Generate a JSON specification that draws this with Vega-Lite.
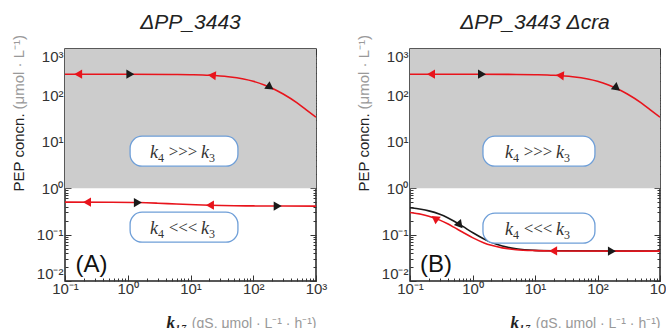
{
  "$schema": "https://vega.github.io/schema/vega-lite/v6.json",
  "padding": {"left": 10, "top": 10, "right": 0, "bottom": 0},
  "background": "white",
  "config": {
    "view": {"stroke": "#222222", "strokeWidth": 1.5},
    "axis": {"grid": false, "domain": false, "labelFont": "Liberation Sans", "labelFontSize": 15, "labelColor": "#333333", "tickColor": "#333333", "labelOverlap": false, "labelFlush": false, "labelBound": false},
    "title": {"font": "Liberation Sans", "fontSize": 21, "fontStyle": "italic", "fontWeight": "normal", "color": "#222222", "offset": 2, "baseline": "alphabetic"}
  },
  "datasets": {
    "regions": [
      {"panel": "A", "x0": 0.1, "x1": 1000, "y0": 1, "y1": 1000},
      {"panel": "B", "x0": 0.1, "x1": 1000, "y0": 1, "y1": 1000}
    ],
    "curves": [
      {"panel": "B", "path": "low", "dir": "fwd", "x": 0.1, "y": 0.378},
      {"panel": "B", "path": "low", "dir": "fwd", "x": 0.15, "y": 0.352},
      {"panel": "B", "path": "low", "dir": "fwd", "x": 0.2, "y": 0.325},
      {"panel": "B", "path": "low", "dir": "fwd", "x": 0.3, "y": 0.274},
      {"panel": "B", "path": "low", "dir": "fwd", "x": 0.4, "y": 0.231},
      {"panel": "B", "path": "low", "dir": "fwd", "x": 0.5, "y": 0.197},
      {"panel": "B", "path": "low", "dir": "fwd", "x": 0.7, "y": 0.15},
      {"panel": "B", "path": "low", "dir": "fwd", "x": 1, "y": 0.111},
      {"panel": "B", "path": "low", "dir": "fwd", "x": 1.5, "y": 0.0817},
      {"panel": "B", "path": "low", "dir": "fwd", "x": 2, "y": 0.0682},
      {"panel": "B", "path": "low", "dir": "fwd", "x": 3, "y": 0.0567},
      {"panel": "B", "path": "low", "dir": "fwd", "x": 5, "y": 0.0495},
      {"panel": "B", "path": "low", "dir": "fwd", "x": 10, "y": 0.0458},
      {"panel": "B", "path": "low", "dir": "fwd", "x": 20, "y": 0.0449},
      {"panel": "B", "path": "low", "dir": "fwd", "x": 1000, "y": 0.044},
      {"panel": "A", "path": "up", "dir": "bwd", "x": 0.1, "y": 286},
      {"panel": "A", "path": "up", "dir": "bwd", "x": 1, "y": 286},
      {"panel": "A", "path": "up", "dir": "bwd", "x": 5, "y": 283},
      {"panel": "A", "path": "up", "dir": "bwd", "x": 10, "y": 279},
      {"panel": "A", "path": "up", "dir": "bwd", "x": 20, "y": 271},
      {"panel": "A", "path": "up", "dir": "bwd", "x": 40, "y": 252},
      {"panel": "A", "path": "up", "dir": "bwd", "x": 70, "y": 225},
      {"panel": "A", "path": "up", "dir": "bwd", "x": 100, "y": 201},
      {"panel": "A", "path": "up", "dir": "bwd", "x": 150, "y": 168},
      {"panel": "A", "path": "up", "dir": "bwd", "x": 200, "y": 143},
      {"panel": "A", "path": "up", "dir": "bwd", "x": 300, "y": 107},
      {"panel": "A", "path": "up", "dir": "bwd", "x": 500, "y": 69},
      {"panel": "A", "path": "up", "dir": "bwd", "x": 700, "y": 49},
      {"panel": "A", "path": "up", "dir": "bwd", "x": 1000, "y": 34},
      {"panel": "A", "path": "low", "dir": "bwd", "x": 0.1, "y": 0.5},
      {"panel": "A", "path": "low", "dir": "bwd", "x": 0.5, "y": 0.497},
      {"panel": "A", "path": "low", "dir": "bwd", "x": 1.5, "y": 0.49},
      {"panel": "A", "path": "low", "dir": "bwd", "x": 3, "y": 0.475},
      {"panel": "A", "path": "low", "dir": "bwd", "x": 6, "y": 0.455},
      {"panel": "A", "path": "low", "dir": "bwd", "x": 12, "y": 0.44},
      {"panel": "A", "path": "low", "dir": "bwd", "x": 20, "y": 0.43},
      {"panel": "A", "path": "low", "dir": "bwd", "x": 50, "y": 0.42},
      {"panel": "A", "path": "low", "dir": "bwd", "x": 100, "y": 0.415},
      {"panel": "A", "path": "low", "dir": "bwd", "x": 300, "y": 0.412},
      {"panel": "A", "path": "low", "dir": "bwd", "x": 1000, "y": 0.41},
      {"panel": "B", "path": "up", "dir": "bwd", "x": 0.1, "y": 286},
      {"panel": "B", "path": "up", "dir": "bwd", "x": 1, "y": 286},
      {"panel": "B", "path": "up", "dir": "bwd", "x": 5, "y": 283},
      {"panel": "B", "path": "up", "dir": "bwd", "x": 10, "y": 279},
      {"panel": "B", "path": "up", "dir": "bwd", "x": 20, "y": 271},
      {"panel": "B", "path": "up", "dir": "bwd", "x": 40, "y": 252},
      {"panel": "B", "path": "up", "dir": "bwd", "x": 70, "y": 225},
      {"panel": "B", "path": "up", "dir": "bwd", "x": 100, "y": 201},
      {"panel": "B", "path": "up", "dir": "bwd", "x": 150, "y": 168},
      {"panel": "B", "path": "up", "dir": "bwd", "x": 200, "y": 143},
      {"panel": "B", "path": "up", "dir": "bwd", "x": 300, "y": 107},
      {"panel": "B", "path": "up", "dir": "bwd", "x": 500, "y": 69},
      {"panel": "B", "path": "up", "dir": "bwd", "x": 700, "y": 49},
      {"panel": "B", "path": "up", "dir": "bwd", "x": 1000, "y": 34},
      {"panel": "B", "path": "low", "dir": "bwd", "x": 0.1, "y": 0.299},
      {"panel": "B", "path": "low", "dir": "bwd", "x": 0.15, "y": 0.274},
      {"panel": "B", "path": "low", "dir": "bwd", "x": 0.2, "y": 0.249},
      {"panel": "B", "path": "low", "dir": "bwd", "x": 0.3, "y": 0.205},
      {"panel": "B", "path": "low", "dir": "bwd", "x": 0.4, "y": 0.171},
      {"panel": "B", "path": "low", "dir": "bwd", "x": 0.5, "y": 0.145},
      {"panel": "B", "path": "low", "dir": "bwd", "x": 0.7, "y": 0.112},
      {"panel": "B", "path": "low", "dir": "bwd", "x": 1, "y": 0.0862},
      {"panel": "B", "path": "low", "dir": "bwd", "x": 1.5, "y": 0.0671},
      {"panel": "B", "path": "low", "dir": "bwd", "x": 2, "y": 0.0587},
      {"panel": "B", "path": "low", "dir": "bwd", "x": 3, "y": 0.0517},
      {"panel": "B", "path": "low", "dir": "bwd", "x": 5, "y": 0.0473},
      {"panel": "B", "path": "low", "dir": "bwd", "x": 10, "y": 0.0451},
      {"panel": "B", "path": "low", "dir": "bwd", "x": 20, "y": 0.0444},
      {"panel": "B", "path": "low", "dir": "bwd", "x": 1000, "y": 0.044}
    ],
    "arrows": [
      {"panel": "A", "dir": "bwd", "x": 0.162, "y": 286, "tilt": 0},
      {"panel": "A", "dir": "fwd", "x": 1.1, "y": 286, "tilt": 0},
      {"panel": "A", "dir": "bwd", "x": 21.9, "y": 270, "tilt": 5},
      {"panel": "A", "dir": "fwd", "x": 186, "y": 150, "tilt": 35},
      {"panel": "A", "dir": "bwd", "x": 0.224, "y": 0.499, "tilt": 0},
      {"panel": "A", "dir": "fwd", "x": 1.45, "y": 0.49, "tilt": 0},
      {"panel": "A", "dir": "bwd", "x": 20.4, "y": 0.43, "tilt": 0},
      {"panel": "A", "dir": "fwd", "x": 245, "y": 0.412, "tilt": 0},
      {"panel": "B", "dir": "bwd", "x": 0.217, "y": 286, "tilt": 0},
      {"panel": "B", "dir": "fwd", "x": 1.42, "y": 286, "tilt": 0},
      {"panel": "B", "dir": "bwd", "x": 25, "y": 269, "tilt": 5},
      {"panel": "B", "dir": "fwd", "x": 204, "y": 143, "tilt": 38},
      {"panel": "B", "dir": "bwd", "x": 0.25, "y": 0.226, "tilt": 35},
      {"panel": "B", "dir": "fwd", "x": 0.63, "y": 0.16, "tilt": 50},
      {"panel": "B", "dir": "bwd", "x": 19.5, "y": 0.0444, "tilt": 0},
      {"panel": "B", "dir": "fwd", "x": 170, "y": 0.044, "tilt": 0}
    ],
    "notes": [
      {"panel": "A", "x0": 1.09, "x1": 57, "y0": 2.98, "y1": 13.2, "cx": 7.88, "cy": 6.27, "rel": ">>>"},
      {"panel": "A", "x0": 1.09, "x1": 57, "y0": 0.0686, "y1": 0.304, "cx": 7.88, "cy": 0.1445, "rel": "<<<"},
      {"panel": "B", "x0": 1.47, "x1": 91, "y0": 2.98, "y1": 13.2, "cx": 11.6, "cy": 6.27, "rel": ">>>"},
      {"panel": "B", "x0": 1.47, "x1": 91, "y0": 0.0653, "y1": 0.289, "cx": 11.6, "cy": 0.1374, "rel": "<<<"}
    ],
    "labels": [
      {"panel": "A", "x": 0.265, "y": 0.022, "label": "(A)"},
      {"panel": "B", "x": 0.26, "y": 0.022, "label": "(B)"}
    ]
  },
  "spacing": 94,
  "bounds": "flush",
  "hconcat": [
    {
      "width": 251,
      "height": 232,
      "title": {"text": "ΔPP_3443"},
      "resolve": {"axis": {"x": "independent", "y": "independent"}},
      "layer": [
        {
          "data": {"name": "regions"},
          "transform": [{"filter": "datum.panel == 'A'"}],
          "mark": {"type": "rect", "color": "#cccccc"},
          "encoding": {
            "x": {"field": "x0", "type": "quantitative", "scale": {"type": "log", "domain": [0.1, 1000], "nice": false},
              "axis": {"orient": "bottom", "values": [0.1,0.2,0.3,0.4,0.5,0.6,0.7,0.8,0.9,1,2,3,4,5,6,7,8,9,10,20,30,40,50,60,70,80,90,100,200,300,400,500,600,700,800,900,1000],
                "tickSize": {"condition": {"test": "indexof([0.01,0.1,1,10,100,1000], datum.value) >= 0", "value": -6}, "value": -3},
                "labelPadding": 6,
                "labelExpr": "datum.value==0.1?'10⁻¹':datum.value==1?'10⁰':datum.value==10?'10¹':datum.value==100?'10²':datum.value==1000?'10³':''",
                "title": "k₁₇", "titleFont": "Liberation Serif", "titleFontStyle": "italic", "titleFontWeight": "bold", "titleFontSize": 17, "titleColor": "#222222",
                "titleAlign": "left", "titleAnchor": "start", "titleBaseline": "alphabetic", "titleX": 101, "titleY": 46}},
            "x2": {"field": "x1"},
            "y": {"field": "y0", "type": "quantitative", "scale": {"type": "log", "domain": [0.01, 1000], "nice": false},
              "axis": {"orient": "left", "values": [0.01,0.02,0.03,0.04,0.05,0.06,0.07,0.08,0.09,0.1,0.2,0.3,0.4,0.5,0.6,0.7,0.8,0.9,1,2,3,4,5,6,7,8,9,10,20,30,40,50,60,70,80,90,100,200,300,400,500,600,700,800,900,1000],
                "tickSize": {"condition": {"test": "indexof([0.01,0.1,1,10,100,1000], datum.value) >= 0", "value": -6}, "value": -3},
                "labelPadding": 8, "labelFlush": true,
                "labelExpr": "datum.value==0.01?'10⁻²':datum.value==0.1?'10⁻¹':datum.value==1?'10⁰':datum.value==10?'10¹':datum.value==100?'10²':datum.value==1000?'10³':''",
                "title": "PEP concn.", "titleFont": "Liberation Sans", "titleFontSize": 15, "titleFontWeight": "normal", "titleColor": "#222222",
                "titleAngle": -90, "titleAlign": "left", "titleAnchor": "start", "titleBaseline": "alphabetic", "titleX": -42, "titleY": 142}},
            "y2": {"field": "y1"}
          }
        },
        {
          "data": {"name": "curves"},
          "transform": [{"filter": "datum.panel == 'A'"}],
          "mark": {"type": "line", "strokeWidth": 1.6, "clip": true, "interpolate": "monotone"},
          "encoding": {
            "x": {"field": "x", "type": "quantitative", "scale": {"type": "log", "domain": [0.1, 1000], "nice": false},
              "axis": {"orient": "top", "values": [0.1,0.2,0.3,0.4,0.5,0.6,0.7,0.8,0.9,1,2,3,4,5,6,7,8,9,10,20,30,40,50,60,70,80,90,100,200,300,400,500,600,700,800,900,1000],
                "tickSize": {"condition": {"test": "indexof([0.01,0.1,1,10,100,1000], datum.value) >= 0", "value": -6}, "value": -3},
                "labels": false,
                "title": "(qS, μmol · L⁻¹ · h⁻¹)", "titleFont": "Liberation Sans", "titleFontSize": 14, "titleFontWeight": "normal", "titleColor": "#999999",
                "titleAlign": "right", "titleAnchor": "end", "titleBaseline": "alphabetic", "titleX": 251, "titleY": 278}},
            "y": {"field": "y", "type": "quantitative", "scale": {"type": "log", "domain": [0.01, 1000], "nice": false},
              "axis": {"orient": "right", "values": [0.01,0.02,0.03,0.04,0.05,0.06,0.07,0.08,0.09,0.1,0.2,0.3,0.4,0.5,0.6,0.7,0.8,0.9,1,2,3,4,5,6,7,8,9,10,20,30,40,50,60,70,80,90,100,200,300,400,500,600,700,800,900,1000],
                "tickSize": {"condition": {"test": "indexof([0.01,0.1,1,10,100,1000], datum.value) >= 0", "value": -6}, "value": -3},
                "labels": false,
                "title": "(μmol · L⁻¹)", "titleFont": "Liberation Sans", "titleFontSize": 15, "titleFontWeight": "normal", "titleColor": "#999999",
                "titleAngle": -90, "titleAlign": "left", "titleAnchor": "start", "titleBaseline": "alphabetic", "titleX": -293, "titleY": 60}},
            "color": {"field": "dir", "type": "nominal", "scale": {"domain": ["fwd", "bwd"], "range": ["#1a1a1a", "#e8141c"]}, "legend": null},
            "detail": {"field": "path"}
          }
        },
        {
          "data": {"name": "notes"},
          "transform": [{"filter": "datum.panel == 'A'"}],
          "mark": {"type": "rect", "fill": "white", "stroke": "#6f9fd8", "strokeWidth": 1.3, "cornerRadius": 12},
          "encoding": {
            "x": {"field": "x0", "type": "quantitative", "axis": null},
            "x2": {"field": "x1"},
            "y": {"field": "y0", "type": "quantitative", "axis": null},
            "y2": {"field": "y1"}
          }
        },
        {
          "data": {"name": "notes"},
          "transform": [{"filter": "datum.panel == 'A'"}],
          "mark": {"type": "text", "text": "k", "font": "Liberation Serif", "fontStyle": "italic", "fontSize": 18, "color": "#333333", "align": "center", "baseline": "alphabetic", "dx": -30, "dy": 7},
          "encoding": {"x": {"field": "cx", "type": "quantitative", "axis": null}, "y": {"field": "cy", "type": "quantitative", "axis": null}}
        },
        {
          "data": {"name": "notes"},
          "transform": [{"filter": "datum.panel == 'A'"}],
          "mark": {"type": "text", "text": "4", "font": "Liberation Serif", "fontSize": 12, "color": "#333333", "align": "center", "baseline": "alphabetic", "dx": -23, "dy": 11},
          "encoding": {"x": {"field": "cx", "type": "quantitative", "axis": null}, "y": {"field": "cy", "type": "quantitative", "axis": null}}
        },
        {
          "data": {"name": "notes"},
          "transform": [{"filter": "datum.panel == 'A'"}],
          "mark": {"type": "text", "font": "Liberation Serif", "fontSize": 17, "color": "#333333", "align": "center", "baseline": "alphabetic", "dx": -1, "dy": 6},
          "encoding": {"x": {"field": "cx", "type": "quantitative", "axis": null}, "y": {"field": "cy", "type": "quantitative", "axis": null}, "text": {"field": "rel"}}
        },
        {
          "data": {"name": "notes"},
          "transform": [{"filter": "datum.panel == 'A'"}],
          "mark": {"type": "text", "text": "k", "font": "Liberation Serif", "fontStyle": "italic", "fontSize": 18, "color": "#333333", "align": "center", "baseline": "alphabetic", "dx": 21, "dy": 7},
          "encoding": {"x": {"field": "cx", "type": "quantitative", "axis": null}, "y": {"field": "cy", "type": "quantitative", "axis": null}}
        },
        {
          "data": {"name": "notes"},
          "transform": [{"filter": "datum.panel == 'A'"}],
          "mark": {"type": "text", "text": "3", "font": "Liberation Serif", "fontSize": 12, "color": "#333333", "align": "center", "baseline": "alphabetic", "dx": 28, "dy": 11},
          "encoding": {"x": {"field": "cx", "type": "quantitative", "axis": null}, "y": {"field": "cy", "type": "quantitative", "axis": null}}
        },
        {
          "data": {"name": "arrows"},
          "transform": [{"filter": "datum.panel == 'A'"}],
          "mark": {"type": "point", "filled": true, "opacity": 1, "size": 85},
          "encoding": {
            "x": {"field": "x", "type": "quantitative", "axis": null},
            "y": {"field": "y", "type": "quantitative", "axis": null},
            "color": {"field": "dir", "type": "nominal", "legend": null},
            "shape": {"field": "dir", "type": "nominal", "scale": {"domain": ["fwd", "bwd"], "range": ["triangle-right", "triangle-left"]}, "legend": null},
            "angle": {"field": "tilt", "type": "quantitative", "scale": null}
          }
        },
        {
          "data": {"name": "labels"},
          "transform": [{"filter": "datum.panel == 'A'"}],
          "mark": {"type": "text", "font": "Liberation Sans", "fontSize": 24, "color": "#111111", "align": "center", "baseline": "middle"},
          "encoding": {"x": {"field": "x", "type": "quantitative", "axis": null}, "y": {"field": "y", "type": "quantitative", "axis": null}, "text": {"field": "label"}}
        }
      ]
    },
    {
      "width": 250,
      "height": 232,
      "title": {"text": "ΔPP_3443 Δcra"},
      "resolve": {"axis": {"x": "independent", "y": "independent"}},
      "layer": [
        {
          "data": {"name": "regions"},
          "transform": [{"filter": "datum.panel == 'B'"}],
          "mark": {"type": "rect", "color": "#cccccc"},
          "encoding": {
            "x": {"field": "x0", "type": "quantitative", "scale": {"type": "log", "domain": [0.1, 1000], "nice": false},
              "axis": {"orient": "bottom", "values": [0.1,0.2,0.3,0.4,0.5,0.6,0.7,0.8,0.9,1,2,3,4,5,6,7,8,9,10,20,30,40,50,60,70,80,90,100,200,300,400,500,600,700,800,900,1000],
                "tickSize": {"condition": {"test": "indexof([0.01,0.1,1,10,100,1000], datum.value) >= 0", "value": -6}, "value": -3},
                "labelPadding": 6,
                "labelExpr": "datum.value==0.1?'10⁻¹':datum.value==1?'10⁰':datum.value==10?'10¹':datum.value==100?'10²':datum.value==1000?'10³':''",
                "title": "k₁₇", "titleFont": "Liberation Serif", "titleFontStyle": "italic", "titleFontWeight": "bold", "titleFontSize": 17, "titleColor": "#222222",
                "titleAlign": "left", "titleAnchor": "start", "titleBaseline": "alphabetic", "titleX": 100, "titleY": 46}},
            "x2": {"field": "x1"},
            "y": {"field": "y0", "type": "quantitative", "scale": {"type": "log", "domain": [0.01, 1000], "nice": false},
              "axis": {"orient": "left", "values": [0.01,0.02,0.03,0.04,0.05,0.06,0.07,0.08,0.09,0.1,0.2,0.3,0.4,0.5,0.6,0.7,0.8,0.9,1,2,3,4,5,6,7,8,9,10,20,30,40,50,60,70,80,90,100,200,300,400,500,600,700,800,900,1000],
                "tickSize": {"condition": {"test": "indexof([0.01,0.1,1,10,100,1000], datum.value) >= 0", "value": -6}, "value": -3},
                "labelPadding": 8, "labelFlush": true,
                "labelExpr": "datum.value==0.01?'10⁻²':datum.value==0.1?'10⁻¹':datum.value==1?'10⁰':datum.value==10?'10¹':datum.value==100?'10²':datum.value==1000?'10³':''",
                "title": "PEP concn.", "titleFont": "Liberation Sans", "titleFontSize": 15, "titleFontWeight": "normal", "titleColor": "#222222",
                "titleAngle": -90, "titleAlign": "left", "titleAnchor": "start", "titleBaseline": "alphabetic", "titleX": -42, "titleY": 142}},
            "y2": {"field": "y1"}
          }
        },
        {
          "data": {"name": "curves"},
          "transform": [{"filter": "datum.panel == 'B'"}],
          "mark": {"type": "line", "strokeWidth": 1.6, "clip": true, "interpolate": "monotone"},
          "encoding": {
            "x": {"field": "x", "type": "quantitative", "scale": {"type": "log", "domain": [0.1, 1000], "nice": false},
              "axis": {"orient": "top", "values": [0.1,0.2,0.3,0.4,0.5,0.6,0.7,0.8,0.9,1,2,3,4,5,6,7,8,9,10,20,30,40,50,60,70,80,90,100,200,300,400,500,600,700,800,900,1000],
                "tickSize": {"condition": {"test": "indexof([0.01,0.1,1,10,100,1000], datum.value) >= 0", "value": -6}, "value": -3},
                "labels": false,
                "title": "(qS, μmol · L⁻¹ · h⁻¹)", "titleFont": "Liberation Sans", "titleFontSize": 14, "titleFontWeight": "normal", "titleColor": "#999999",
                "titleAlign": "right", "titleAnchor": "end", "titleBaseline": "alphabetic", "titleX": 250, "titleY": 278}},
            "y": {"field": "y", "type": "quantitative", "scale": {"type": "log", "domain": [0.01, 1000], "nice": false},
              "axis": {"orient": "right", "values": [0.01,0.02,0.03,0.04,0.05,0.06,0.07,0.08,0.09,0.1,0.2,0.3,0.4,0.5,0.6,0.7,0.8,0.9,1,2,3,4,5,6,7,8,9,10,20,30,40,50,60,70,80,90,100,200,300,400,500,600,700,800,900,1000],
                "tickSize": {"condition": {"test": "indexof([0.01,0.1,1,10,100,1000], datum.value) >= 0", "value": -6}, "value": -3},
                "labels": false,
                "title": "(μmol · L⁻¹)", "titleFont": "Liberation Sans", "titleFontSize": 15, "titleFontWeight": "normal", "titleColor": "#999999",
                "titleAngle": -90, "titleAlign": "left", "titleAnchor": "start", "titleBaseline": "alphabetic", "titleX": -292, "titleY": 60}},
            "color": {"field": "dir", "type": "nominal", "scale": {"domain": ["fwd", "bwd"], "range": ["#1a1a1a", "#e8141c"]}, "legend": null},
            "detail": {"field": "path"}
          }
        },
        {
          "data": {"name": "notes"},
          "transform": [{"filter": "datum.panel == 'B'"}],
          "mark": {"type": "rect", "fill": "white", "stroke": "#6f9fd8", "strokeWidth": 1.3, "cornerRadius": 12},
          "encoding": {
            "x": {"field": "x0", "type": "quantitative", "axis": null},
            "x2": {"field": "x1"},
            "y": {"field": "y0", "type": "quantitative", "axis": null},
            "y2": {"field": "y1"}
          }
        },
        {
          "data": {"name": "notes"},
          "transform": [{"filter": "datum.panel == 'B'"}],
          "mark": {"type": "text", "text": "k", "font": "Liberation Serif", "fontStyle": "italic", "fontSize": 18, "color": "#333333", "align": "center", "baseline": "alphabetic", "dx": -30, "dy": 7},
          "encoding": {"x": {"field": "cx", "type": "quantitative", "axis": null}, "y": {"field": "cy", "type": "quantitative", "axis": null}}
        },
        {
          "data": {"name": "notes"},
          "transform": [{"filter": "datum.panel == 'B'"}],
          "mark": {"type": "text", "text": "4", "font": "Liberation Serif", "fontSize": 12, "color": "#333333", "align": "center", "baseline": "alphabetic", "dx": -23, "dy": 11},
          "encoding": {"x": {"field": "cx", "type": "quantitative", "axis": null}, "y": {"field": "cy", "type": "quantitative", "axis": null}}
        },
        {
          "data": {"name": "notes"},
          "transform": [{"filter": "datum.panel == 'B'"}],
          "mark": {"type": "text", "font": "Liberation Serif", "fontSize": 17, "color": "#333333", "align": "center", "baseline": "alphabetic", "dx": -1, "dy": 6},
          "encoding": {"x": {"field": "cx", "type": "quantitative", "axis": null}, "y": {"field": "cy", "type": "quantitative", "axis": null}, "text": {"field": "rel"}}
        },
        {
          "data": {"name": "notes"},
          "transform": [{"filter": "datum.panel == 'B'"}],
          "mark": {"type": "text", "text": "k", "font": "Liberation Serif", "fontStyle": "italic", "fontSize": 18, "color": "#333333", "align": "center", "baseline": "alphabetic", "dx": 21, "dy": 7},
          "encoding": {"x": {"field": "cx", "type": "quantitative", "axis": null}, "y": {"field": "cy", "type": "quantitative", "axis": null}}
        },
        {
          "data": {"name": "notes"},
          "transform": [{"filter": "datum.panel == 'B'"}],
          "mark": {"type": "text", "text": "3", "font": "Liberation Serif", "fontSize": 12, "color": "#333333", "align": "center", "baseline": "alphabetic", "dx": 28, "dy": 11},
          "encoding": {"x": {"field": "cx", "type": "quantitative", "axis": null}, "y": {"field": "cy", "type": "quantitative", "axis": null}}
        },
        {
          "data": {"name": "arrows"},
          "transform": [{"filter": "datum.panel == 'B'"}],
          "mark": {"type": "point", "filled": true, "opacity": 1, "size": 85},
          "encoding": {
            "x": {"field": "x", "type": "quantitative", "axis": null},
            "y": {"field": "y", "type": "quantitative", "axis": null},
            "color": {"field": "dir", "type": "nominal", "legend": null},
            "shape": {"field": "dir", "type": "nominal", "scale": {"domain": ["fwd", "bwd"], "range": ["triangle-right", "triangle-left"]}, "legend": null},
            "angle": {"field": "tilt", "type": "quantitative", "scale": null}
          }
        },
        {
          "data": {"name": "labels"},
          "transform": [{"filter": "datum.panel == 'B'"}],
          "mark": {"type": "text", "font": "Liberation Sans", "fontSize": 24, "color": "#111111", "align": "center", "baseline": "middle"},
          "encoding": {"x": {"field": "x", "type": "quantitative", "axis": null}, "y": {"field": "y", "type": "quantitative", "axis": null}, "text": {"field": "label"}}
        }
      ]
    }
  ]
}
